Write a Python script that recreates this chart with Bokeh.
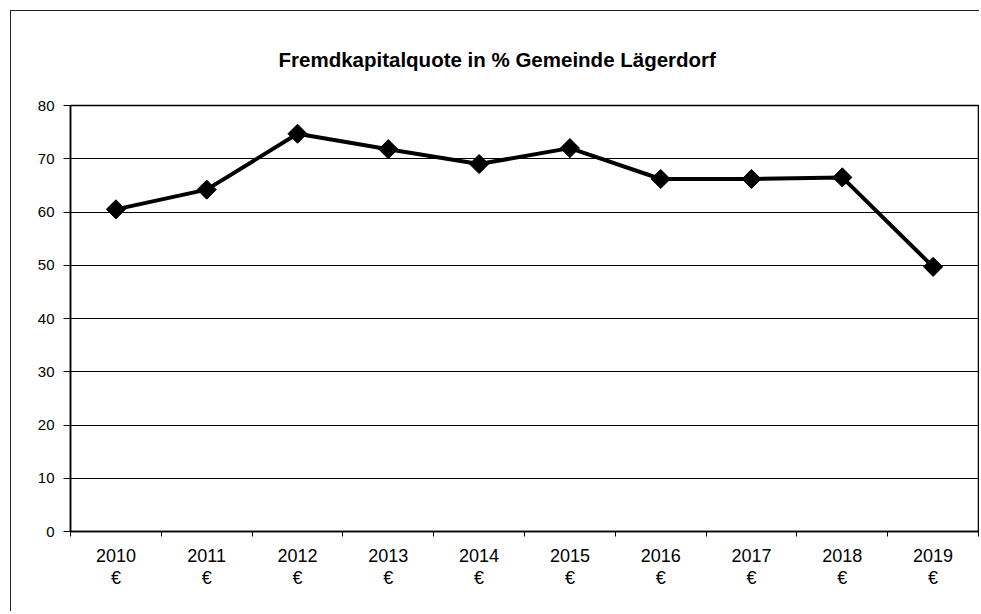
from bokeh.plotting import figure
from bokeh.models import FixedTicker, Range1d, ColumnDataSource
from bokeh.embed import file_html
from bokeh.resources import INLINE
import math

# ---- data ----
years = ["2010", "2011", "2012", "2013", "2014", "2015", "2016", "2017", "2018", "2019"]
quote = [60.5, 64.2, 74.7, 71.8, 69.0, 72.0, 66.2, 66.2, 66.5, 49.7]
y_ticks = [0, 10, 20, 30, 40, 50, 60, 70, 80]
unit = "€"
title_text = "Fremdkapitalquote in % Gemeinde Lägerdorf"

FONT = "Liberation Sans"

xpos = [i + 0.5 for i in range(len(years))]
src = ColumnDataSource(dict(x=xpos, y=quote))

W, H = 969, 601
p = figure(width=W, height=H, output_backend="svg", toolbar_location=None,
           x_range=Range1d(0, len(years)), y_range=Range1d(0, 80),
           min_border_left=59, min_border_right=2, min_border_top=94,
           min_border_bottom=81,
           background_fill_color="white", border_fill_color="white",
           outline_line_color="black", outline_line_width=1.5,
           styles={"margin-left": "10px", "margin-top": "10px",
                   "border-top": "1px solid #222", "border-left": "1px solid #222"})

p.title.text = title_text
p.title.align = "left"
p.title.vertical_align = "top"
p.title.offset = 208
p.title.standoff = 66
p.title.text_font = FONT
p.title.text_font_size = "20.5px"
p.title.text_font_style = "bold"
p.title.text_color = "black"

p.line("x", "y", source=src, line_color="black", line_width=4)
p.scatter("x", "y", source=src, marker="square", angle=math.pi / 4, size=13.5,
          fill_color="black", line_color="black")

# axes
p.xgrid.grid_line_color = None
p.ygrid.grid_line_color = "black"
p.ygrid.grid_line_width = 1
p.yaxis.ticker = FixedTicker(ticks=y_ticks)
p.yaxis.axis_line_color = "black"
p.yaxis.axis_line_width = 1.5
p.yaxis.major_tick_line_color = "black"
p.yaxis.major_tick_out = 7
p.yaxis.major_tick_in = 0
p.yaxis.minor_tick_line_color = None
p.yaxis.major_label_text_font = FONT
p.yaxis.major_label_text_font_size = "15px"
p.yaxis.major_label_text_color = "black"
p.yaxis.major_label_standoff = 9

p.xaxis.ticker = FixedTicker(ticks=xpos, minor_ticks=list(range(len(years) + 1)))
p.xaxis.major_label_overrides = {x: f"{y}\n{unit}" for x, y in zip(xpos, years)}
p.xaxis.axis_line_color = "black"
p.xaxis.axis_line_width = 1.5
p.xaxis.major_tick_line_color = None
p.xaxis.major_tick_out = 0
p.xaxis.major_tick_in = 0
p.xaxis.minor_tick_line_color = "black"
p.xaxis.minor_tick_out = 5
p.xaxis.minor_tick_in = 0
p.xaxis.major_label_text_font = FONT
p.xaxis.major_label_text_font_size = "18px"
p.xaxis.major_label_text_color = "black"
p.xaxis.major_label_text_line_height = 1.1
p.xaxis.major_label_standoff = 9

open("out.html", "w").write(file_html(p, INLINE))
